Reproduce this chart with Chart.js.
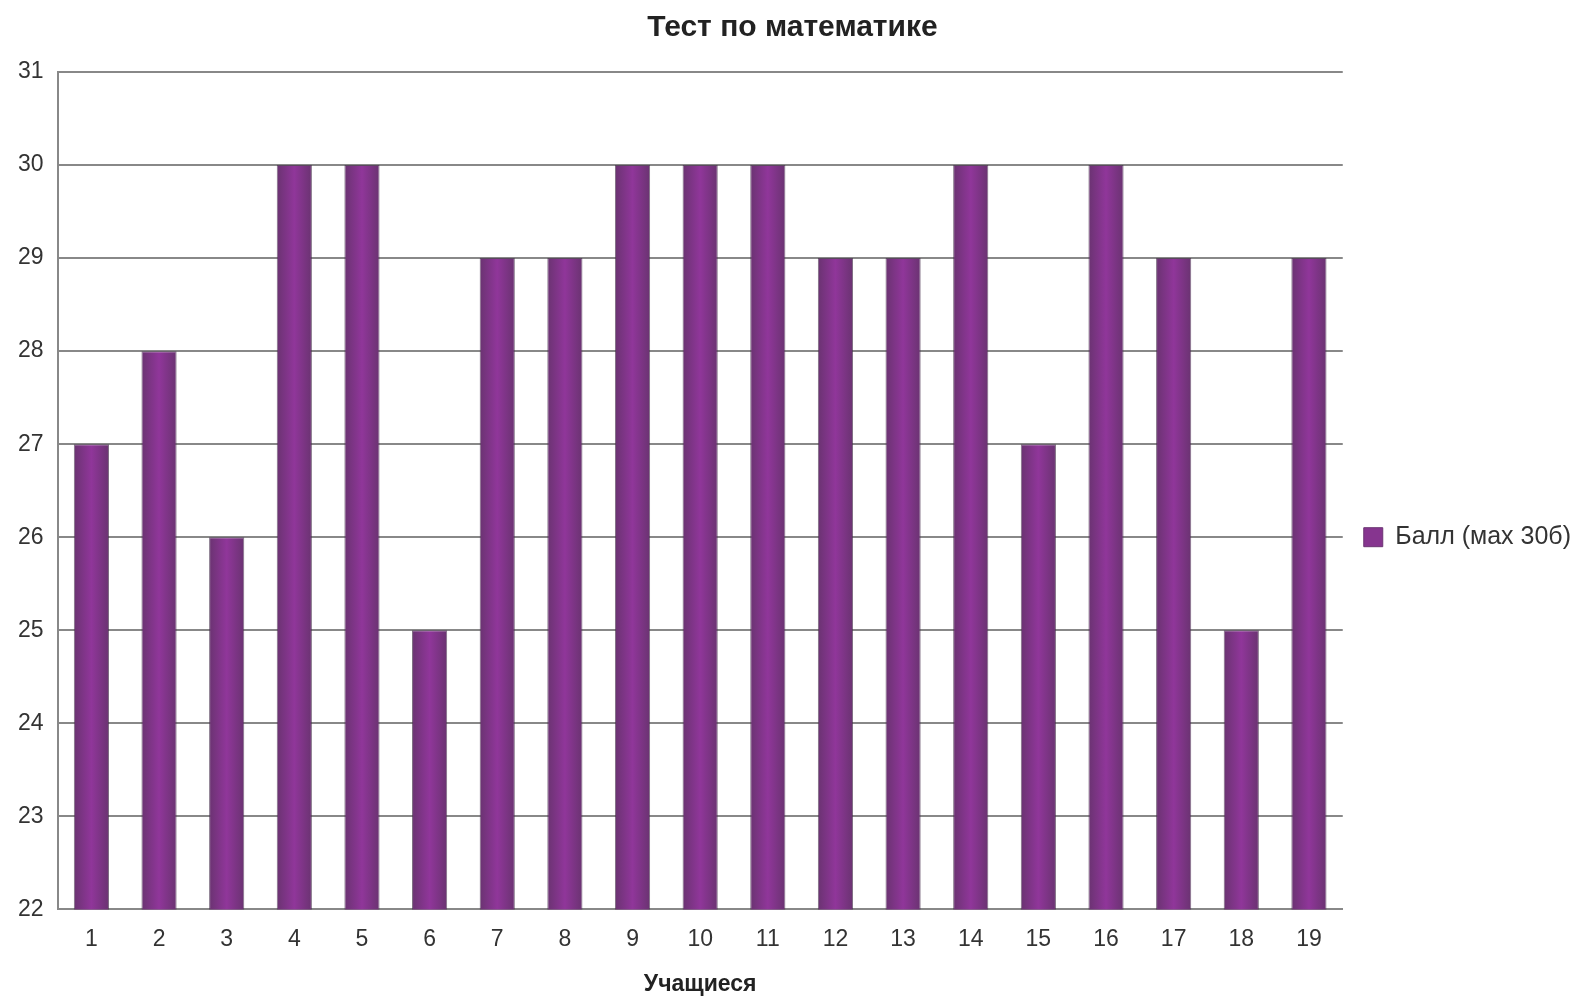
<!DOCTYPE html>
<html>
<head>
<meta charset="utf-8">
<script src="https://cdn.jsdelivr.net/npm/chart.js@4/dist/chart.umd.min.js"></script>
<style>
  html, body { margin: 0; padding: 0; background: #fff; }
  #wrap { width: 1583px; height: 996px; }
</style>
</head>
<body>
<div id="wrap"><canvas id="myBarChart" width="1583" height="996"></canvas></div>
<script>
// данные
var students = ['1', '2', '3', '4', '5', '6', '7', '8', '9', '10', '11', '12', '13', '14', '15', '16', '17', '18', '19'];
var scores = [27, 28, 26, 30, 30, 25, 29, 29, 30, 30, 30, 29, 29, 30, 27, 30, 29, 25, 29];
var seriesName = 'Балл (мах 30б)';
var yMin = 22, yMax = 31;

var barFrac = 0.52;

function barFill(c) {
    var chart = c.chart;
    var area = chart.chartArea;
    if (!area || !chart.scales.x) return '#84358c';
    var x = chart.scales.x.getPixelForValue(c.dataIndex);
    var w = (area.right - area.left) / students.length * barFrac;
    var g = chart.ctx.createLinearGradient(x - w / 2, 0, x + w / 2, 0);
    g.addColorStop(0, '#6a3371');
    g.addColorStop(0.5, '#90369a');
    g.addColorStop(1, '#6a3371');
    return g;
}

var ctx = document.getElementById('myBarChart').getContext('2d');
new Chart(ctx, {
    type: 'bar',
    data: {
        labels: students,
        datasets: [{
            label: seriesName,
            data: scores,
            backgroundColor: barFill,
            borderColor: 'rgba(70,45,75,0.7)',
            borderWidth: 1,
            categoryPercentage: 1,
            barPercentage: barFrac
        }]
    },
    options: {
        responsive: false,
        animation: false,
        layout: { padding: { left: 4, right: 2, top: 6, bottom: 0 } },
        plugins: {
            title: {
                display: true,
                text: 'Тест по математике',
                color: '#222',
                font: { family: 'Liberation Sans, Arial', size: 30, weight: 'bold' },
                padding: { top: 4, bottom: 26 }
            },
            legend: {
                position: 'right',
                title: { display: true, text: ' ', padding: 29 },
                labels: {
                    color: '#333',
                    boxWidth: 19,
                    boxHeight: 19,
                    padding: 21,
                    font: { family: 'Liberation Sans, Arial', size: 25 },
                    generateLabels: function (chart) {
                        return [{
                            text: seriesName,
                            fillStyle: '#86358f',
                            strokeStyle: '#6c3573',
                            fontColor: '#333',
                            lineWidth: 1,
                            datasetIndex: 0
                        }];
                    }
                }
            },
            tooltip: { enabled: false }
        },
        scales: {
            x: {
                grid: { display: false, drawTicks: false },
                border: { display: true, color: '#888', width: 2 },
                ticks: {
                    color: '#333',
                    padding: 16,
                    font: { family: 'Liberation Sans, Arial', size: 23 }
                },
                title: {
                    display: true,
                    text: 'Учащиеся',
                    color: '#222',
                    font: { family: 'Liberation Sans, Arial', size: 23, weight: 'bold', lineHeight: 1 },
                    padding: { top: 4, bottom: 0 }
                }
            },
            y: {
                min: yMin,
                max: yMax,
                ticks: {
                    stepSize: 1,
                    color: '#333',
                    padding: 14,
                    font: { family: 'Liberation Sans, Arial', size: 23 }
                },
                grid: { color: '#888', lineWidth: 2, drawTicks: false },
                border: { display: true, color: '#888', width: 2 }
            }
        }
    }
});
</script>
</body>
</html>
